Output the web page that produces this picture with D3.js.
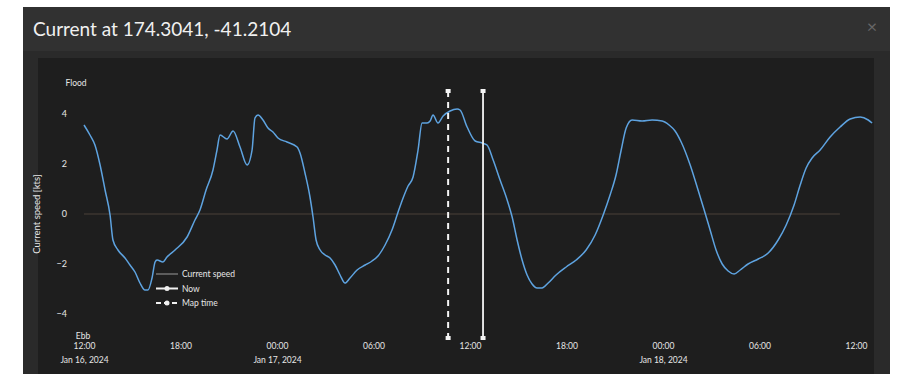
<!DOCTYPE html>
<html>
<head>
<meta charset="utf-8">
<script src="https://cdn.jsdelivr.net/npm/d3@7"></script>
<style>
  html, body { margin: 0; padding: 0; background: #ffffff; }
  svg { display: block; font-family: Lato, "Open Sans", sans-serif; }
</style>
</head>
<body>
<svg id="chart" width="899" height="374"></svg>
<script>
// Tidal current at 174.3041, -41.2104 — hours after Jan 16 2024 12:00 and speed in knots
const startTime = new Date(2024, 0, 16, 12, 0);
const hours = [
  0, 0.37, 0.68, 1.0, 1.31, 1.62, 1.80, 2.11, 2.55, 2.86, 3.17, 3.48, 3.79, 3.98, 4.23, 4.42,
  4.54, 4.91, 5.16, 5.66, 6.41, 6.90, 7.21, 7.59, 8.02, 8.27, 8.46, 8.89, 9.27, 9.70, 10.14,
  10.45, 10.63, 10.82, 11.13, 11.44, 11.75, 12.06, 12.62, 13.25, 13.43, 13.74, 14.05, 14.24,
  14.43, 14.68, 14.99, 15.30, 15.61, 15.92, 16.23, 16.54, 16.98, 17.48, 17.91, 18.28, 18.72,
  19.15, 19.53, 19.84, 20.15, 20.46, 20.77, 21.02, 21.33, 21.52, 21.70, 22.01, 22.33, 22.76,
  23.20, 23.38, 23.82, 24.32, 24.75, 25.06, 25.44, 25.87, 26.31, 26.62, 26.93, 27.24, 27.55,
  27.86, 28.17, 28.48, 28.86, 29.35, 29.98, 30.60, 31.22, 31.78, 32.28, 32.71, 33.08, 33.40,
  33.71, 34.08, 34.70, 35.32, 35.95, 36.38, 36.75, 37.13, 37.69, 38.18, 38.56, 38.93, 39.30,
  39.68, 40.05, 40.42, 40.80, 41.29, 41.92, 42.54, 43.16, 43.66, 44.15, 44.53, 44.90, 45.27,
  45.77, 46.39, 47.01, 47.64, 48.26, 48.76, 49.0
];
const speeds = [
  3.56, 3.16, 2.76, 1.96, 0.96, -0.04, -1.04, -1.44, -1.76, -2.04, -2.32, -2.76, -3.04, -3.04, -2.56, -1.92,
  -1.84, -1.92, -1.72, -1.44, -0.92, -0.24, 0.16, 0.96, 1.76, 2.56, 3.16, 3.0, 3.32, 2.68, 1.96,
  2.56, 3.84, 3.96, 3.76, 3.44, 3.28, 3.04, 2.88, 2.68, 2.44, 1.64, 0.68, -0.12,
  -1.04, -1.44, -1.64, -1.76, -2.04, -2.44, -2.76, -2.56, -2.24, -2.04, -1.88, -1.68, -1.24,
  -0.64, 0.08, 0.64, 1.12, 1.48, 2.56, 3.64, 3.64, 3.72, 3.96, 3.64, 3.92, 4.12,
  4.20, 4.16, 3.48, 2.92, 2.84, 2.76, 2.16, 1.36, 0.56, -0.12, -1.04, -1.84, -2.44,
  -2.80, -2.96, -2.96, -2.76, -2.44, -2.12, -1.84, -1.44, -0.84, -0.04, 0.76, 1.56, 2.56,
  3.44, 3.76, 3.72, 3.76, 3.72, 3.56, 3.32, 2.88, 1.96, 0.96, 0.16, -0.64, -1.44,
  -2.0, -2.28, -2.40, -2.24, -2.0, -1.80, -1.56, -1.04, -0.44, 0.36, 1.16, 1.84, 2.24,
  2.56, 3.08, 3.48, 3.80, 3.88, 3.76, 3.64
];
const yTicks = [-4, -2, 0, 2, 4];
const xTickHours = [0, 6, 12, 18, 24, 30, 36, 42, 48];
const mapTimeHours = 22.64;   // Jan 17 10:38
const nowHours = 24.81;       // Jan 17 12:49
const legendItems = ["Current speed", "Now", "Map time"];

const toDate = h => new Date(startTime.getTime() + h * 3600e3);
const data = hours.map((h, i) => ({ t: toDate(h), v: speeds[i] }));

const svg = d3.select("#chart");

// panel, header and plot backgrounds
svg.append("rect").attr("x", 23).attr("y", 7).attr("width", 867).attr("height", 367).attr("fill", "#2a2a2a");
svg.append("rect").attr("x", 23).attr("y", 7).attr("width", 867).attr("height", 44).attr("fill", "#313131");
svg.append("rect").attr("x", 38).attr("y", 58).attr("width", 836).attr("height", 316).attr("fill", "#1e1e1e");

svg.append("text").attr("x", 33).attr("y", 36)
  .attr("fill", "#f0f0f0").attr("font-size", 19).text("Current at 174.3041, -41.2104");
svg.append("text").attr("x", 872).attr("y", 33).attr("text-anchor", "middle")
  .attr("fill", "#666").attr("font-size", 18).text("\u00d7");

const x = d3.scaleTime().domain([startTime, toDate(48)]).range([84, 856]);
const y = d3.scaleLinear().domain([-4, 4]).range([314, 114]);

// y axis labels
const yAxis = d3.axisLeft(y).tickValues(yTicks).tickSize(0).tickPadding(0);
const gy = svg.append("g").attr("transform", "translate(67,0)").call(yAxis);
gy.select(".domain").remove();
gy.selectAll("text").attr("fill", "#e6e6e6").attr("font-size", 9).attr("font-family", "Lato, sans-serif");

svg.append("text").attr("transform", "translate(40,214) rotate(-90)").attr("text-anchor", "middle")
  .attr("fill", "#e6e6e6").attr("font-size", 9.5).text("Current speed [kts]");
svg.append("text").attr("x", 76).attr("y", 86).attr("text-anchor", "middle")
  .attr("fill", "#e6e6e6").attr("font-size", 8.5).text("Flood");
svg.append("text").attr("x", 83).attr("y", 339).attr("text-anchor", "middle")
  .attr("fill", "#e6e6e6").attr("font-size", 8.5).text("Ebb");

// x axis labels: time, plus date under midnight/start
const fmtTime = d3.timeFormat("%H:%M");
const fmtDate = d3.timeFormat("%b %-d, %Y");
const xAxis = d3.axisBottom(x).tickValues(xTickHours.map(toDate)).tickSize(0).tickPadding(0)
  .tickFormat(fmtTime);
const gx = svg.append("g").attr("transform", "translate(0,343)").call(xAxis);
gx.select(".domain").remove();
gx.selectAll("text").attr("fill", "#e6e6e6").attr("font-size", 8.5).attr("font-family", "Lato, sans-serif");
gx.selectAll(".tick").filter((d, i) => i === 0 || d.getHours() === 0)
  .append("text").attr("y", 14).attr("dy", "0.71em").attr("fill", "#e6e6e6").attr("font-size", 8.5)
  .attr("font-family", "Lato, sans-serif").attr("text-anchor", "middle").text(d => fmtDate(d));

// zero reference line
svg.append("line").attr("x1", x(toDate(0))).attr("x2", x(toDate(47)))
  .attr("y1", y(0)).attr("y2", y(0)).attr("stroke", "#4a4038").attr("stroke-width", 1);

// current speed curve
const line = d3.line().x(d => x(d.t)).y(d => y(d.v)).curve(d3.curveMonotoneX);
svg.append("path").datum(data).attr("d", line).attr("fill", "none")
  .attr("stroke", "#5ea3e0").attr("stroke-width", 1.5).attr("stroke-linejoin", "round");

// map time (dashed) and now (solid) markers
function marker(h, dashed) {
  const xx = x(toDate(h));
  svg.append("line").attr("x1", xx).attr("x2", xx).attr("y1", 91).attr("y2", 338)
    .attr("stroke", "#f4f4f4").attr("stroke-width", dashed ? 2 : 1.8)
    .attr("stroke-dasharray", dashed ? "6,5" : null);
  [91, 338].forEach(yy => svg.append("rect").attr("x", xx - 2.5).attr("y", yy - 2)
    .attr("width", 5).attr("height", 4).attr("fill", "#f4f4f4"));
}
marker(mapTimeHours, true);
marker(nowHours, false);

// legend
const lg = svg.append("g").attr("transform", "translate(156,274)");
legendItems.forEach((name, i) => {
  const g = lg.append("g").attr("transform", `translate(0,${i * 14.5})`);
  if (i === 0) {
    g.append("line").attr("x1", 0).attr("x2", 22).attr("stroke", "#9a9a9a").attr("stroke-width", 1);
  } else {
    g.append("line").attr("x1", 0).attr("x2", 22).attr("stroke", "#f0f0f0").attr("stroke-width", 2)
      .attr("stroke-dasharray", i === 2 ? "5,3" : null);
    g.append("circle").attr("cx", 11).attr("r", 2.5).attr("fill", "#f0f0f0");
  }
  g.append("text").attr("x", 26).attr("y", 3).attr("fill", "#e6e6e6").attr("font-size", 8.5).text(name);
});
</script>
</body>
</html>
